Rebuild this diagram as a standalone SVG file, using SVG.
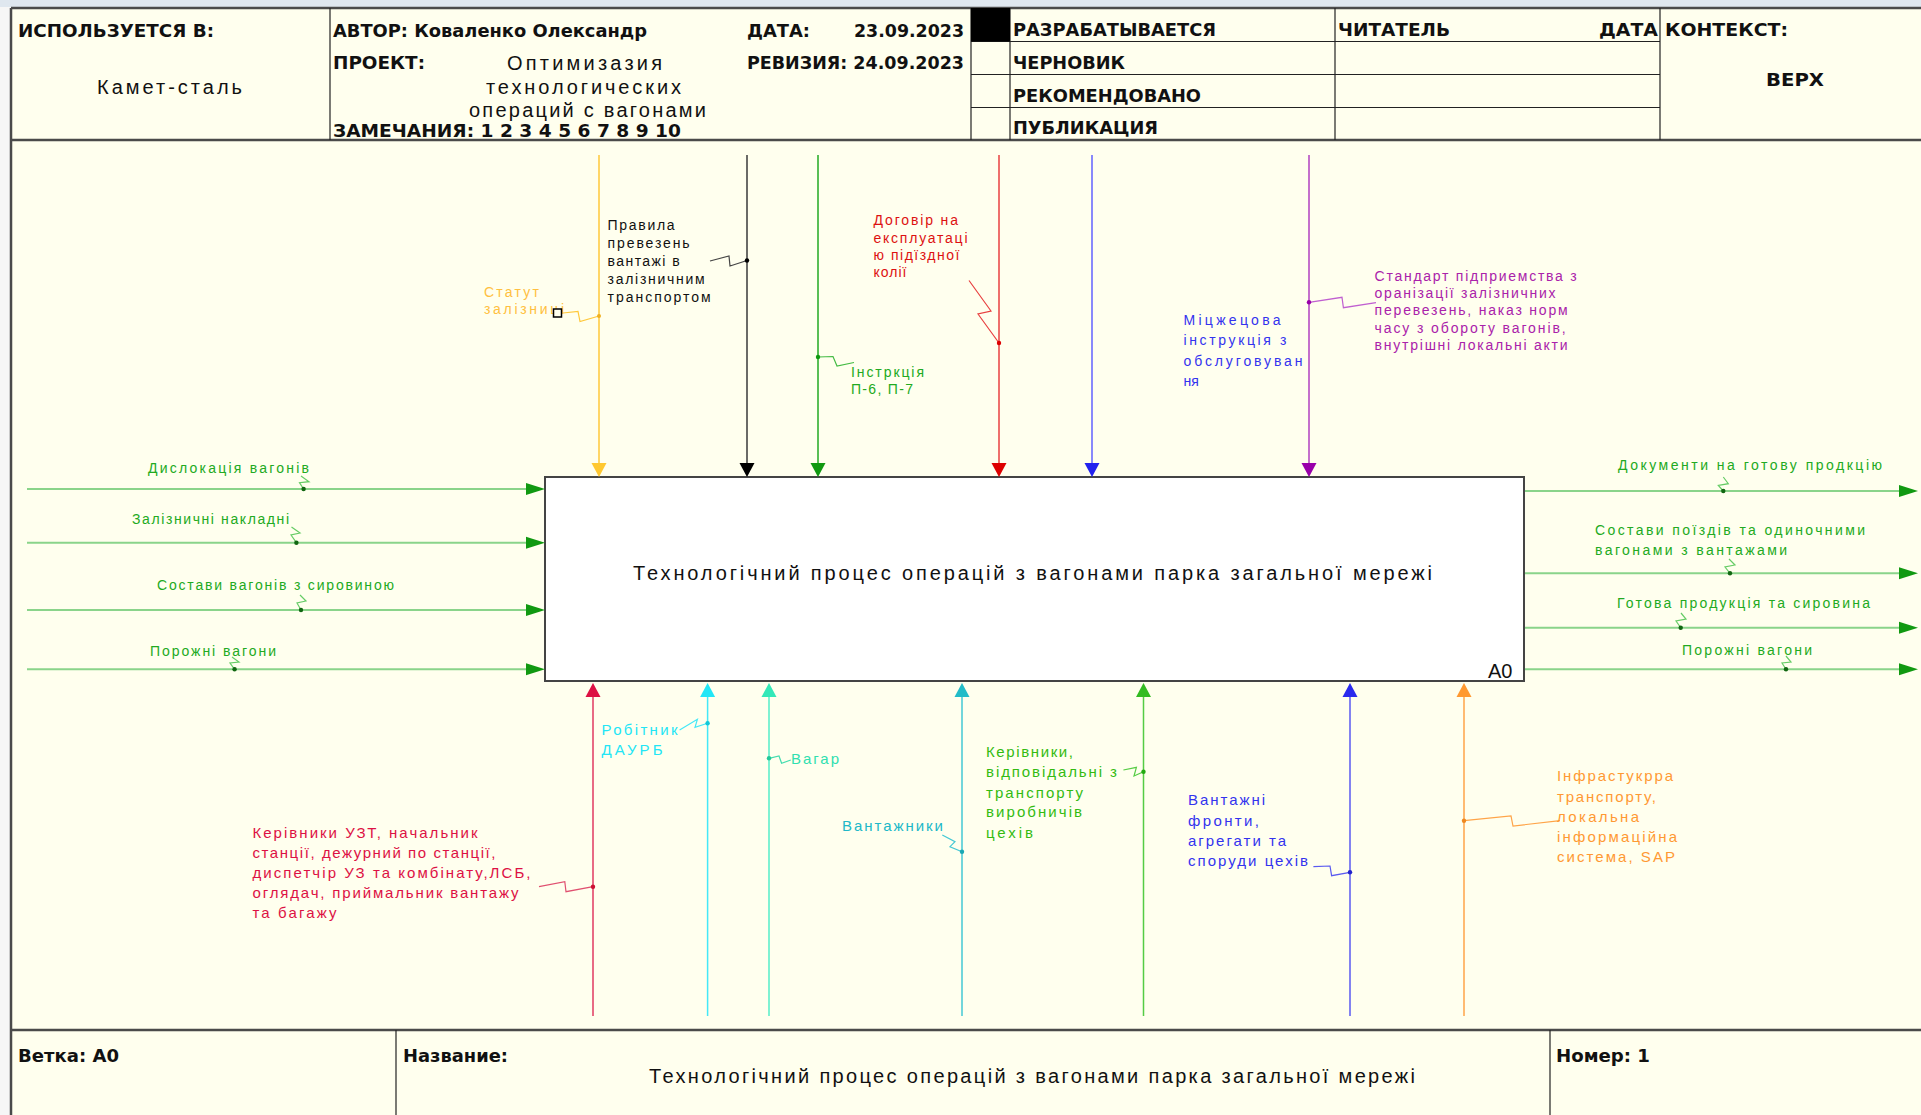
<svg xmlns="http://www.w3.org/2000/svg" width="1921" height="1115" viewBox="0 0 1921 1115">
<style>
.hd{font-family:"DejaVu Sans Condensed","DejaVu Sans","Liberation Sans",sans-serif;font-size:17px;font-weight:bold;fill:#111}
.ar{font-family:"Liberation Sans",Arial,sans-serif;fill:#111;font-size:20px}
.lb{font-family:"Liberation Sans",Arial,sans-serif;font-size:14px}
.lm{font-family:"Liberation Sans",Arial,sans-serif;font-size:15px}
.fr{stroke:#4a4a4a;stroke-width:2.5;fill:none}
.thin{stroke:#222;stroke-width:1.2;fill:none}
.ln{fill:none;stroke-width:1.5}
.sq{fill:none;stroke-width:1.2}
.io{stroke:#8ad48a;stroke-width:2;fill:none}
.g{fill:#22aa22}
</style>
<defs>
<path id="ahD" d="M0,0 L-7.5,-14 L7.5,-14 Z"/>
<path id="ahU" d="M0,0 L-7.5,14 L7.5,14 Z"/>
<path id="ahR" d="M0,0 L-19,-6 L-19,6 Z"/>
</defs>
<rect x="0" y="0" width="1921" height="1115" fill="#f6f6f6"/>
<rect x="0" y="0" width="1921" height="7" fill="#dfe7ef"/>
<rect x="11" y="8" width="1910" height="1107" fill="#ffffee"/>

<g id="frame">
<line class="fr" x1="11" y1="8" x2="1921" y2="8"/>
<line class="fr" x1="11" y1="8" x2="11" y2="1115"/>
<line class="fr" x1="11" y1="140" x2="1921" y2="140"/>
<line class="fr" x1="11" y1="1030" x2="1921" y2="1030"/>
<line class="thin" x1="330" y1="8" x2="330" y2="140"/>
<line class="thin" x1="971" y1="8" x2="971" y2="140"/>
<line class="thin" x1="1010" y1="8" x2="1010" y2="140"/>
<line class="thin" x1="1335" y1="8" x2="1335" y2="140"/>
<line class="thin" x1="1660" y1="8" x2="1660" y2="140"/>
<line class="thin" x1="971" y1="41.5" x2="1660" y2="41.5"/>
<line class="thin" x1="971" y1="74.5" x2="1660" y2="74.5"/>
<line class="thin" x1="971" y1="107.5" x2="1660" y2="107.5"/>
<rect x="971" y="8" width="39" height="33.5" fill="#000"/>
<line class="thin" x1="396" y1="1030" x2="396" y2="1115"/>
<line class="thin" x1="1550" y1="1030" x2="1550" y2="1115"/>

<text class="hd" x="18" y="37" textLength="196" lengthAdjust="spacingAndGlyphs">ИСПОЛЬЗУЕТСЯ В:</text>
<text class="ar" x="97" y="94" textLength="145" lengthAdjust="spacing">Камет-сталь</text>
<text class="hd" x="333" y="37" textLength="314" lengthAdjust="spacingAndGlyphs">АВТОР: Коваленко Олександр</text>
<text class="hd" x="747" y="37" textLength="63" lengthAdjust="spacingAndGlyphs">ДАТА:</text>
<text class="hd" x="854" y="37" textLength="110" lengthAdjust="spacingAndGlyphs">23.09.2023</text>
<text class="hd" x="333" y="69" textLength="92" lengthAdjust="spacingAndGlyphs">ПРОЕКТ:</text>
<text class="hd" x="747" y="69" textLength="217" lengthAdjust="spacingAndGlyphs">РЕВИЗИЯ: 24.09.2023</text>
<text class="ar" x="507" y="70" textLength="155" lengthAdjust="spacing">Оптимизазия</text>
<text class="ar" x="486" y="94" textLength="195" lengthAdjust="spacing">технологических</text>
<text class="ar" x="469" y="117" font-size="19" textLength="237" lengthAdjust="spacing">операций с вагонами</text>
<text class="hd" x="333" y="137" textLength="348" lengthAdjust="spacingAndGlyphs">ЗАМЕЧАНИЯ: 1 2 3 4 5 6 7 8 9 10</text>
<text class="hd" x="1013" y="36" textLength="203" lengthAdjust="spacingAndGlyphs">РАЗРАБАТЫВАЕТСЯ</text>
<text class="hd" x="1013" y="69" textLength="112" lengthAdjust="spacingAndGlyphs">ЧЕРНОВИК</text>
<text class="hd" x="1013" y="102" textLength="188" lengthAdjust="spacingAndGlyphs">РЕКОМЕНДОВАНО</text>
<text class="hd" x="1013" y="134" textLength="145" lengthAdjust="spacingAndGlyphs">ПУБЛИКАЦИЯ</text>
<text class="hd" x="1338" y="36" textLength="112" lengthAdjust="spacingAndGlyphs">ЧИТАТЕЛЬ</text>
<text class="hd" x="1599" y="36" textLength="59" lengthAdjust="spacingAndGlyphs">ДАТА</text>
<text class="hd" x="1665" y="36" textLength="123" lengthAdjust="spacingAndGlyphs">КОНТЕКСТ:</text>
<text class="hd" x="1766" y="86" textLength="58" lengthAdjust="spacingAndGlyphs">ВЕРХ</text>

<text class="hd" x="18" y="1062" textLength="101" lengthAdjust="spacingAndGlyphs">Ветка: A0</text>
<text class="hd" x="403" y="1062" textLength="105" lengthAdjust="spacingAndGlyphs">Название:</text>
<text class="ar" x="649" y="1083" textLength="766" lengthAdjust="spacing">Технологічний процес операцій з вагонами парка загальної мережі</text>
<text class="hd" x="1556" y="1062" textLength="94" lengthAdjust="spacingAndGlyphs">Номер: 1</text>
</g>

<g id="node-A0">
<rect x="545" y="477" width="979" height="204" fill="#ffffff" stroke="#444" stroke-width="2"/>
<text class="ar" x="633" y="580" textLength="799" lengthAdjust="spacing">Технологічний процес операцій з вагонами парка загальної мережі</text>
<text class="ar" x="1488" y="678">A0</text>
</g>

<g id="connectors">
<!-- controls -->
<line class="ln" stroke="#ffc83a" x1="599" y1="155" x2="599" y2="466"/>
<use href="#ahD" x="599" y="477" fill="#ffc830"/>
<polyline class="sq" stroke="#ffc83a" points="563,313 578,311.5 580,321.5 599,316"/>
<circle cx="599" cy="316" r="2" fill="#f0b020"/>

<line class="ln" stroke="#3a3a3a" x1="747" y1="155" x2="747" y2="466"/>
<use href="#ahD" x="747" y="477" fill="#000"/>
<polyline class="sq" stroke="#444" points="710,261 729,256 730,266 747,260.5"/>
<circle cx="747" cy="260.5" r="2.2" fill="#000"/>

<line class="ln" stroke="#22aa22" x1="818" y1="155" x2="818" y2="466"/>
<use href="#ahD" x="818" y="477" fill="#119911"/>
<polyline class="sq" stroke="#44bb44" points="818,357 833,356.5 837,366 854,362.5"/>
<circle cx="818" cy="357" r="2.2" fill="#119911"/>

<line class="ln" stroke="#e84040" x1="999" y1="155" x2="999" y2="466"/>
<use href="#ahD" x="999" y="477" fill="#dd0000"/>
<polyline class="sq" stroke="#e84040" points="969,280.5 991,311 978,314 999,343"/>
<circle cx="999" cy="343" r="2.2" fill="#dd0000"/>

<line class="ln" stroke="#6262ff" x1="1092" y1="155" x2="1092" y2="466"/>
<use href="#ahD" x="1092" y="477" fill="#2222ee"/>

<line class="ln" stroke="#b040c0" x1="1309" y1="155" x2="1309" y2="466"/>
<use href="#ahD" x="1309" y="477" fill="#9900aa"/>
<polyline class="sq" stroke="#c060d0" points="1309,302.3 1342,297.3 1343.4,307.7 1376,302.7"/>
<circle cx="1309" cy="302.3" r="2.2" fill="#9900aa"/>

<!-- inputs -->
<line class="io" x1="27" y1="489" x2="528" y2="489"/>
<use href="#ahR" x="545" y="489" fill="#119911"/>
<polyline class="sq" stroke="#66cc66" points="303.6,489 299.5,482.7 309,481.7 301,476"/>
<circle cx="303.6" cy="489" r="2.2" fill="#116611"/>

<line class="io" x1="27" y1="542.7" x2="528" y2="542.7"/>
<use href="#ahR" x="545" y="542.7" fill="#119911"/>
<polyline class="sq" stroke="#66cc66" points="296.4,542.7 291,535 300,533 291.5,527"/>
<circle cx="296.4" cy="542.7" r="2.2" fill="#116611"/>

<line class="io" x1="27" y1="610" x2="528" y2="610"/>
<use href="#ahR" x="545" y="610" fill="#119911"/>
<polyline class="sq" stroke="#66cc66" points="301,610 297,603 306,601 300,595"/>
<circle cx="301" cy="610" r="2.2" fill="#116611"/>

<line class="io" x1="27" y1="669.3" x2="528" y2="669.3"/>
<use href="#ahR" x="545" y="669.3" fill="#119911"/>
<polyline class="sq" stroke="#66cc66" points="234.6,669.3 230,663 239,662 232,657"/>
<circle cx="234.6" cy="669.3" r="2.2" fill="#116611"/>

<!-- outputs -->
<line class="io" x1="1525" y1="491" x2="1901" y2="491"/>
<use href="#ahR" x="1918" y="491" fill="#119911"/>
<polyline class="sq" stroke="#66cc66" points="1723.3,491 1718.3,485.3 1728.3,483.7 1723.3,477"/>
<circle cx="1723.3" cy="491" r="2.2" fill="#116611"/>

<line class="io" x1="1525" y1="573.3" x2="1901" y2="573.3"/>
<use href="#ahR" x="1918" y="573.3" fill="#119911"/>
<polyline class="sq" stroke="#66cc66" points="1730,573.3 1725,567 1735,565 1729,559"/>
<circle cx="1730" cy="573.3" r="2.2" fill="#116611"/>

<line class="io" x1="1525" y1="627.7" x2="1901" y2="627.7"/>
<use href="#ahR" x="1918" y="627.7" fill="#119911"/>
<polyline class="sq" stroke="#66cc66" points="1680.7,627.7 1676,621 1686,619 1681,613"/>
<circle cx="1680.7" cy="627.7" r="2.2" fill="#116611"/>

<line class="io" x1="1525" y1="669.3" x2="1901" y2="669.3"/>
<use href="#ahR" x="1918" y="669.3" fill="#119911"/>
<polyline class="sq" stroke="#66cc66" points="1786,669.3 1782,663 1791,662 1786,656"/>
<circle cx="1786" cy="669.3" r="2.2" fill="#116611"/>

<!-- mechanisms -->
<line class="ln" stroke="#e03a60" x1="593" y1="694" x2="593" y2="1016"/>
<use href="#ahU" x="593" y="683" fill="#dd1144"/>
<polyline class="sq" stroke="#e05070" points="539,886.7 564.8,881.7 566,891.7 593,886.7"/>
<circle cx="593" cy="886.7" r="2.2" fill="#cc1133"/>

<line class="ln" stroke="#44e8f8" x1="707.6" y1="694" x2="707.6" y2="1016"/>
<use href="#ahU" x="707.6" y="683" fill="#22e6f6"/>
<polyline class="sq" stroke="#44e8f8" points="679.6,730 697.4,719.3 695,727.3 707.6,723.3"/>
<circle cx="707.6" cy="723.3" r="2.2" fill="#11c8d8"/>

<line class="ln" stroke="#55eec8" x1="769" y1="694" x2="769" y2="1016"/>
<use href="#ahU" x="769" y="683" fill="#33e8b8"/>
<polyline class="sq" stroke="#44ddb0" points="769,758.3 779,756 781.6,763.3 790.8,760"/>
<circle cx="769" cy="758.3" r="2.2" fill="#22c898"/>

<line class="ln" stroke="#44c8d4" x1="962" y1="694" x2="962" y2="1016"/>
<use href="#ahU" x="962" y="683" fill="#22bcc8"/>
<polyline class="sq" stroke="#44c8d4" points="942.3,835 955,841.7 950,846.7 962,851.7"/>
<circle cx="962" cy="851.7" r="2.2" fill="#1aa8b4"/>

<line class="ln" stroke="#55cc44" x1="1143.5" y1="694" x2="1143.5" y2="1016"/>
<use href="#ahU" x="1143.5" y="683" fill="#33bb22"/>
<polyline class="sq" stroke="#55cc44" points="1123.4,770 1136.4,767.3 1134,776 1143.5,771.7"/>
<circle cx="1143.5" cy="771.7" r="2.2" fill="#22aa11"/>

<line class="ln" stroke="#5a5af0" x1="1350" y1="694" x2="1350" y2="1016"/>
<use href="#ahU" x="1350" y="683" fill="#2a2aee"/>
<polyline class="sq" stroke="#5a5af0" points="1313.4,866.7 1330,866 1331.6,875.7 1350,872.3"/>
<circle cx="1350" cy="872.3" r="2.2" fill="#2222cc"/>

<line class="ln" stroke="#ffa448" x1="1464" y1="694" x2="1464" y2="1016"/>
<use href="#ahU" x="1464" y="683" fill="#ff9930"/>
<polyline class="sq" stroke="#ffa448" points="1464,820.7 1511,816 1513,826 1560,820.7"/>
<circle cx="1464" cy="820.7" r="2.2" fill="#ee8820"/>

<!-- control labels -->
<text class="lb" fill="#ffc040" x="484" y="296.5" textLength="55" lengthAdjust="spacing">Статут</text>
<text class="lb" fill="#ffc040" x="484" y="314" textLength="80" lengthAdjust="spacing">залізниці</text>
<rect x="553.5" y="309" width="8" height="8" fill="#ffffee" stroke="#000" stroke-width="1.5"/>
<text class="lb" fill="#111" x="607.6" y="230" textLength="67" lengthAdjust="spacing">Правила</text>
<text class="lb" fill="#111" x="607.6" y="248" textLength="82" lengthAdjust="spacing">превезень</text>
<text class="lb" fill="#111" x="607.6" y="266" textLength="72" lengthAdjust="spacing">вантажі в</text>
<text class="lb" fill="#111" x="607.6" y="284" textLength="97" lengthAdjust="spacing">залізничним</text>
<text class="lb" fill="#111" x="607.6" y="302" textLength="103" lengthAdjust="spacing">транспортом</text>
<text class="lb g" x="851" y="377" textLength="73" lengthAdjust="spacing">Інстркція</text>
<text class="lb g" x="851" y="394" textLength="62" lengthAdjust="spacing">П-6, П-7</text>
<text class="lb" fill="#dd1111" x="873.5" y="225" textLength="84.5" lengthAdjust="spacing">Договір на</text>
<text class="lb" fill="#dd1111" x="873.5" y="243" textLength="94" lengthAdjust="spacing">експлуатаці</text>
<text class="lb" fill="#dd1111" x="873.5" y="260" textLength="86" lengthAdjust="spacing">ю підїздної</text>
<text class="lb" fill="#dd1111" x="873.5" y="277" textLength="33" lengthAdjust="spacing">колії</text>
<text class="lb" fill="#3333ee" font-size="15.5" x="1183.5" y="325" textLength="97" lengthAdjust="spacing">Міцжецова</text>
<text class="lb" fill="#3333ee" font-size="15.5" x="1183.5" y="345" textLength="103" lengthAdjust="spacing">інструкція з</text>
<text class="lb" fill="#3333ee" font-size="15.5" x="1183.5" y="366" textLength="119" lengthAdjust="spacing">обслуговуван</text>
<text class="lb" fill="#3333ee" font-size="15.5" x="1183.5" y="386">ня</text>
<text class="lb" fill="#aa22aa" x="1374.6" y="280.5" textLength="202" lengthAdjust="spacing">Стандарт підприемства з</text>
<text class="lb" fill="#aa22aa" x="1374.6" y="298" textLength="181" lengthAdjust="spacing">оранізації залізничних</text>
<text class="lb" fill="#aa22aa" x="1374.6" y="315" textLength="193" lengthAdjust="spacing">перевезень, наказ норм</text>
<text class="lb" fill="#aa22aa" x="1374.6" y="332.5" textLength="191" lengthAdjust="spacing">часу з обороту вагонів,</text>
<text class="lb" fill="#aa22aa" x="1374.6" y="350" textLength="193" lengthAdjust="spacing">внутрішні локальні акти</text>

<!-- input labels -->
<text class="lb g" x="148" y="472.5" textLength="161" lengthAdjust="spacing">Дислокація  вагонів</text>
<text class="lb g" x="132" y="523.5" textLength="157" lengthAdjust="spacing">Залізничні накладні</text>
<text class="lb g" x="157" y="589.5" textLength="237" lengthAdjust="spacing">Состави вагонів з сировиною</text>
<text class="lb g" x="150" y="656" textLength="126" lengthAdjust="spacing">Порожні вагони</text>

<!-- output labels -->
<text class="lb g" x="1618" y="470" textLength="264" lengthAdjust="spacing">Документи на готову продкцію</text>
<text class="lb g" x="1595" y="535" textLength="270" lengthAdjust="spacing">Состави поїздів та одиночними</text>
<text class="lb g" x="1595" y="555" textLength="192" lengthAdjust="spacing">вагонами з вантажами</text>
<text class="lb g" x="1617" y="608" textLength="253" lengthAdjust="spacing">Готова продукція та сировина</text>
<text class="lb g" x="1682" y="655" textLength="130" lengthAdjust="spacing">Порожні вагони</text>

<!-- mechanism labels -->
<text class="lm" fill="#dd1144" x="252.5" y="838" textLength="225" lengthAdjust="spacing">Керівники УЗТ, начальник</text>
<text class="lm" fill="#dd1144" x="252.5" y="858" textLength="243" lengthAdjust="spacing">станції, дежурний по станції,</text>
<text class="lm" fill="#dd1144" x="252.5" y="878" textLength="278" lengthAdjust="spacing">диспетчір  УЗ та комбінату,ЛСБ,</text>
<text class="lm" fill="#dd1144" x="252.5" y="898" textLength="266" lengthAdjust="spacing">оглядач, приймальник вантажу</text>
<text class="lm" fill="#dd1144" x="252.5" y="918" textLength="84" lengthAdjust="spacing">та багажу</text>
<text class="lm" fill="#22e6f6" x="601.5" y="735" textLength="76" lengthAdjust="spacing">Робітник</text>
<text class="lm" fill="#22e6f6" x="601.5" y="755" textLength="61" lengthAdjust="spacing">ДАУРБ</text>
<text class="lm" fill="#30e0b0" x="791" y="764" textLength="48" lengthAdjust="spacing">Вагар</text>
<text class="lm" fill="#20b8c8" x="842" y="831" textLength="101" lengthAdjust="spacing">Вантажники</text>
<text class="lm" fill="#33bb11" x="986" y="757" textLength="87" lengthAdjust="spacing">Керівники,</text>
<text class="lm" fill="#33bb11" x="986" y="777" textLength="131" lengthAdjust="spacing">відповідальні з</text>
<text class="lm" fill="#33bb11" x="986" y="797.5" textLength="97" lengthAdjust="spacing">транспорту</text>
<text class="lm" fill="#33bb11" x="986" y="817" textLength="96" lengthAdjust="spacing">виробничів</text>
<text class="lm" fill="#33bb11" x="986" y="838" textLength="47" lengthAdjust="spacing">цехів</text>
<text class="lm" fill="#3333ee" x="1188" y="805" textLength="77" lengthAdjust="spacing">Вантажні</text>
<text class="lm" fill="#3333ee" x="1188" y="826" textLength="71" lengthAdjust="spacing">фронти,</text>
<text class="lm" fill="#3333ee" x="1188" y="846" textLength="98" lengthAdjust="spacing">агрегати та</text>
<text class="lm" fill="#3333ee" x="1188" y="866" textLength="120" lengthAdjust="spacing">споруди цехів</text>
<text class="lm" fill="#ff9933" x="1557" y="781" textLength="116" lengthAdjust="spacing">Інфрастукрра</text>
<text class="lm" fill="#ff9933" x="1557" y="802" textLength="99" lengthAdjust="spacing">транспорту,</text>
<text class="lm" fill="#ff9933" x="1557" y="822" textLength="82" lengthAdjust="spacing">локальна</text>
<text class="lm" fill="#ff9933" x="1557" y="842" textLength="120" lengthAdjust="spacing">інформаційна</text>
<text class="lm" fill="#ff9933" x="1557" y="862" textLength="118" lengthAdjust="spacing">система, SAP</text>
</g>
</svg>
